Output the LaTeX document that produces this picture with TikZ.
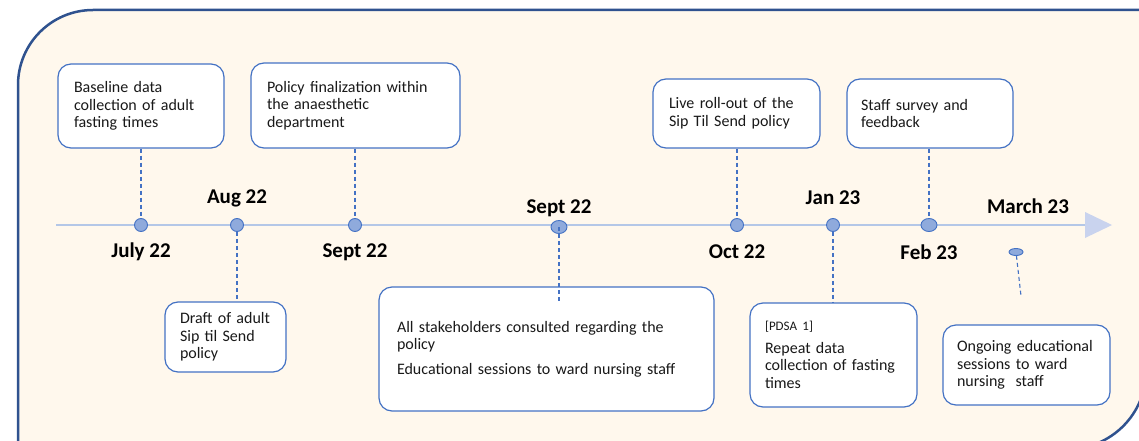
\documentclass[tikz,border=0pt]{standalone}
\usepackage{fontspec}
\setmainfont{Carlito}
\usetikzlibrary{shapes.geometric}

\definecolor{frameblue}{RGB}{47,82,143}
\definecolor{cream}{RGB}{255,248,237}
\definecolor{boxblue}{RGB}{68,114,196}
\definecolor{dotfill}{RGB}{143,170,220}
\definecolor{axisblue}{RGB}{180,199,231}
\definecolor{tipfill}{RGB}{201,211,238}
\definecolor{inkgrey}{RGB}{25,25,25}

\tikzset{
  stagebox/.style={draw=boxblue, line width=1.2pt, fill=white, rounded corners=13pt,
    align=left, inner xsep=16pt, inner ysep=0pt, text=inkgrey,
    font=\fontsize{16}{17.6}\selectfont},
  datelabel/.style={font=\fontsize{21}{24}\selectfont\bfseries, text=black, inner sep=0pt},
  dot/.style={circle, draw=boxblue, line width=0.9pt, fill=dotfill, minimum size=13pt, inner sep=0pt},
  oval/.style={ellipse, draw=boxblue, line width=0.9pt, fill=dotfill, inner sep=0pt},
  link/.style={draw=boxblue, line width=1.1pt, dash pattern=on 4pt off 3pt},
}

\begin{document}
\begin{tikzpicture}[x=1pt, y=-1pt]
			%%%%% START %%%%%

			\useasboundingbox (0,0) rectangle (1139,441);
			\fill[white] (0,0) rectangle (1139,441);
			\clip (0,0) rectangle (1139,441);

			% outer panel
			\draw[frameblue, line width=2.5pt, fill=cream] (18,470) -- (18,85) arc (180:270:75)
			  -- (1146,10) -- (1146,371) arc (0:90:78) -- (0,449) -- (0,470) -- cycle;

			% timeline
			\coordinate (tl) at (56,225);
			\coordinate (tr) at (1085,225);
			\draw[axisblue, line width=1.5pt] (tl) -- (tr);
			\fill[tipfill] (1085,212) -- (1112,225) -- (1085,238) -- cycle;

			% boxes above the line
			\node[stagebox, minimum width=166pt, minimum height=84pt, text width=134pt] (b1) at (141,106)
			  {Baseline data\\collection of adult\\fasting times};
			\node[stagebox, minimum width=209pt, minimum height=85pt, text width=177pt] (b2) at (355.5,105.5)
			  {Policy finalization within\\the anaesthetic\\department};
			\node[stagebox, minimum width=167pt, minimum height=69pt, text width=135pt] (b3) at (736.5,113.5)
			  {Live roll-out of the\\Sip Til Send policy};
			\node[stagebox, minimum width=166pt, minimum height=69pt, text width=138pt, inner xsep=14pt] (b4) at (930,113.5)
			  {Staff survey and\\feedback};

			% boxes below the line
			\node[stagebox, minimum width=121pt, minimum height=70pt, text width=91pt, inner xsep=15pt] (b5) at (225.5,337)
			  {Draft of adult\\Sip til Send\\policy};
			\node[stagebox, minimum width=335pt, minimum height=124pt, text width=299pt, inner xsep=18pt] (b6) at (546.5,349)
			  {All stakeholders consulted regarding the\\policy\\[7pt]Educational sessions to ward nursing staff};
			\node[stagebox, minimum width=167pt, minimum height=104pt, text width=137pt, inner xsep=15pt] (b7) at (833.5,355)
			  {{\fontsize{13}{15}\selectfont [PDSA 1]}\\[5pt]Repeat data\\collection of fasting\\times};
			\node[stagebox, minimum width=167pt, minimum height=80pt, text width=139pt, inner xsep=14pt] (b8) at (1026.5,365)
			  {Ongoing educational\\sessions to ward\\nursing\ \ staff};

			% points on the line
			\node[dot] (d1) at (141,225) {};
			\node[dot] (d2) at (237,225) {};
			\node[dot] (d3) at (355,225) {};
			\node[oval, minimum width=16pt, minimum height=13pt] (d4) at (559,227) {};
			\node[dot] (d5) at (737,225) {};
			\node[dot] (d6) at (833,225) {};
			\node[oval, minimum width=16pt, minimum height=13pt] (d7) at (929,225) {};
			\node[oval, minimum width=14pt, minimum height=7pt] (d8) at (1016,252) {};

			\coordinate (e4) at (559,302);
			\coordinate (e8) at (1021,296);

			% dashed leaders
			\draw[link] (b1.south) -- (d1);
			\draw[link] (d3 |- b2.south) -- (d3);
			\draw[link] (d5 |- b3.south) -- (d5);
			\draw[link] (d7 |- b4.south) -- (d7);
			\draw[link] (d2) -- (d2 |- b5.north);
			\draw[link] (d4.center) -- (e4);
			\draw[link] (d6) -- (d6 |- b7.north);
			\draw[link] (d8) -- (e8);

			% dates
			\node[datelabel] (l1) at (141,252) {July 22};
			\node[datelabel] (l2) at (237,198) {Aug 22};
			\node[datelabel] (l3) at (355,252) {Sept 22};
			\node[datelabel] (l4) at (559,208) {Sept 22};
			\node[datelabel] (l5) at (737,252) {Oct 22};
			\node[datelabel] (l6) at (833,198) {Jan 23};
			\node[datelabel] (l7) at (929,252) {Feb 23};
			\node[datelabel] (l8) at (1028,206) {March 23};

			%%%%% END %%%%%
		\end{tikzpicture}
\end{document}
